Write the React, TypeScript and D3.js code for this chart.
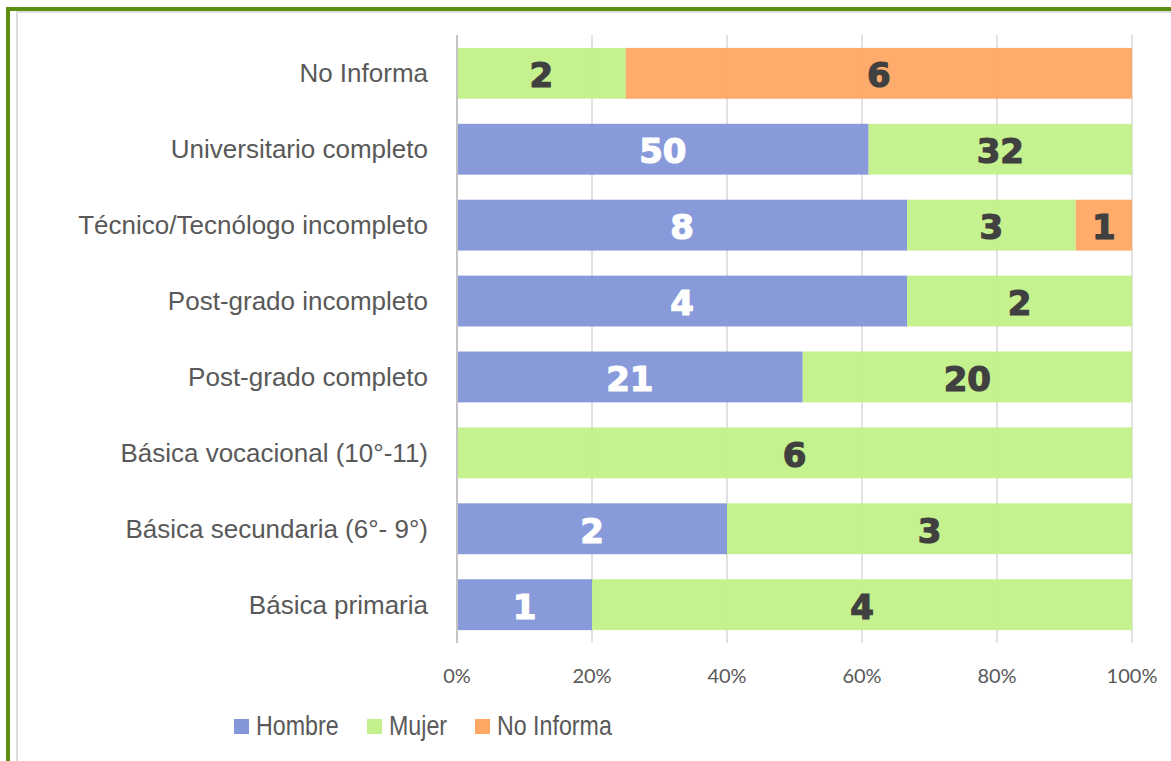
import { scaleBand, scaleLinear, stack } from "d3";

const categories = [
  "No Informa",
  "Universitario completo",
  "Técnico/Tecnólogo incompleto",
  "Post-grado incompleto",
  "Post-grado completo",
  "Básica vocacional (10°-11)",
  "Básica secundaria (6°- 9°)",
  "Básica primaria",
];
const hombre = [0, 50, 8, 4, 21, 0, 2, 1];
const mujer = [2, 32, 3, 2, 20, 6, 3, 4];
const noInforma = [6, 0, 1, 0, 0, 0, 0, 0];

const seriesNames = ["Hombre", "Mujer", "No Informa"];
const seriesColors = ["#8396d9", "#c3f08a", "#ffa865"];
const labelColors = ["#ffffff", "#404040", "#404040"];
const xTicks = [0, 0.2, 0.4, 0.6, 0.8, 1];

export default function App() {
  const width = 1171;
  const height = 761;
  const plot = { left: 457, right: 1132, top: 35, bottom: 643 };

  const rows = categories.map((c, i) => {
    const total = hombre[i] + mujer[i] + noInforma[i];
    return { cat: c, raw: [hombre[i], mujer[i], noInforma[i]], total, Hombre: hombre[i] / total, Mujer: mujer[i] / total, "No Informa": noInforma[i] / total };
  });
  const stacked = stack<any>().keys(seriesNames)(rows);

  const x = scaleLinear().domain([0, 1]).range([plot.left, plot.right]);
  const y = scaleBand().domain(categories).range([plot.top, plot.bottom]).paddingInner(0.33).paddingOuter(0.17);

  const legendX = [234, 367, 475];

  return (
    <svg width={width} height={height} style={{ position: "absolute", left: 0, top: 0 }}>
      <rect x={0} y={0} width={width} height={height} fill="#ffffff" />
      {/* frame */}
      <rect x={8} y={9} width={width + 20} height={height + 20} fill="none" stroke="#5a8f12" strokeWidth={4} />
      <rect x={17} y={12} width={width + 20} height={height + 20} fill="none" stroke="#dcdcdc" strokeWidth={2} />

      {/* gridlines */}
      {xTicks.slice(1).map((t) => (
        <line key={t} x1={x(t)} x2={x(t)} y1={plot.top} y2={plot.bottom} stroke="#e2e2e2" strokeWidth={2} />
      ))}

      {stacked.map((s, si) => (
        <g key={s.key}>
          {s.map((d, i) => {
            const w = x(d[1]) - x(d[0]);
            if (w <= 0) return null;
            const yy = y(categories[i]) ?? 0;
            return (
              <g key={i}>
                <rect x={x(d[0])} y={yy} width={w} height={y.bandwidth()} fill={seriesColors[si]} opacity={0.96} />
                <text
                  x={x(d[0]) + w / 2}
                  y={yy + y.bandwidth() / 2 + 14}
                  textAnchor="middle"
                  fontFamily="DejaVu Sans"
                  fontWeight="bold"
                  fontSize={34}
                  fill={labelColors[si]}
                  stroke={labelColors[si]}
                  strokeWidth={1.2}
                >
                  {rows[i].raw[si]}
                </text>
              </g>
            );
          })}
        </g>
      ))}

      {/* zero axis */}
      <line x1={x(0)} x2={x(0)} y1={plot.top} y2={plot.bottom} stroke="#c4c4c4" strokeWidth={2} />

      {/* category labels */}
      {categories.map((c) => (
        <text
          key={c}
          x={428}
          y={(y(c) ?? 0) + y.bandwidth() / 2 + 9}
          textAnchor="end"
          fontFamily="Liberation Sans, Arial, sans-serif"
          fontSize={26}
          fill="#595959"
        >
          {c}
        </text>
      ))}

      {/* x tick labels */}
      {xTicks.map((t) => (
        <text key={t} x={x(t)} y={683} textAnchor="middle" fontFamily="Lato, sans-serif" fontSize={20} fill="#595959">
          {Math.round(t * 100)}%
        </text>
      ))}

      {/* legend */}
      {seriesNames.map((n, i) => (
        <g key={n}>
          <rect x={legendX[i]} y={719} width={15} height={15} fill={seriesColors[i]} />
          <text
            transform={`translate(${legendX[i] + 22},735) scale(0.86,1)`}
            fontFamily="Liberation Sans, Arial, sans-serif"
            fontSize={27}
            fill="#595959"
          >
            {n}
          </text>
        </g>
      ))}
    </svg>
  );
}
